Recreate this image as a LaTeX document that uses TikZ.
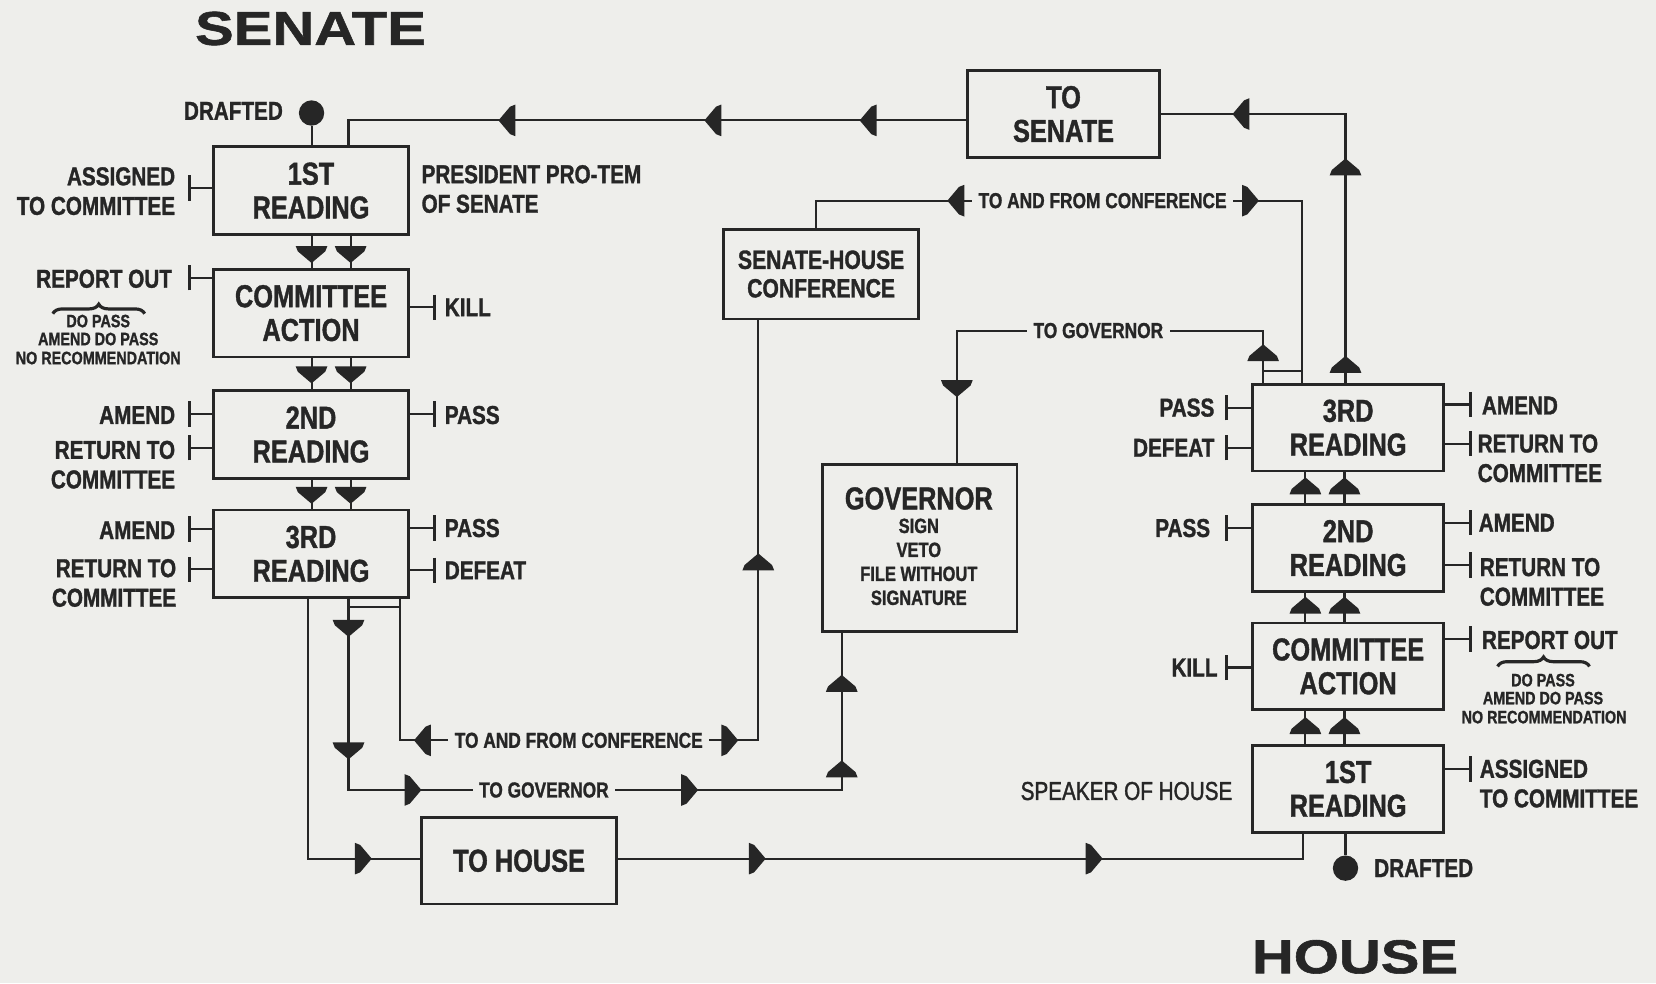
\documentclass[tikz,border=0pt]{standalone}
\usepackage{fontspec}
\setmainfont{Liberation Sans}[FakeStretch=0.8,BoldFeatures={FakeBold=1.2}]
\newfontfamily\medfont{Liberation Sans}[FakeStretch=0.8,FakeBold=1.4]
\newfontfamily\titlefont{Liberation Sans}[FakeStretch=1.22,BoldFeatures={FakeBold=1.2}]
\usetikzlibrary{arrows.meta,decorations.pathreplacing}
\definecolor{paper}{RGB}{238,238,235}
\definecolor{ink}{RGB}{38,38,38}
\begin{document}
\begin{tikzpicture}[x=1pt,y=-1pt,
  wire/.style={draw=ink,line width=2pt},
  box/.style={draw=ink,line width=2.6pt,align=center,inner sep=0pt,text=ink,
     font=\bfseries\fontsize{30}{32}\selectfont},
  sbox/.style={box,minimum width=185pt,minimum height=83pt},
  hbox/.style={box,minimum width=181pt,minimum height=82pt},
  lbl/.style={font=\bfseries\fontsize{24.5}{28}\selectfont,inner sep=0pt,text=ink},
  small/.style={font=\bfseries\fontsize{17}{18}\selectfont,inner sep=0pt,text=ink},
  wlbl/.style={font=\bfseries\fontsize{20.5}{22}\selectfont,fill=paper,inner xsep=6pt,inner ysep=3pt,text=ink},
  title/.style={font=\titlefont\bfseries\fontsize{45}{45}\selectfont,inner sep=0pt,text=ink},
  tick/.style={wire,-{Bar[width=24pt,line width=3pt]}},
  dot/.style={circle,fill=ink,inner sep=0pt,minimum size=24pt},
  brc/.style={draw=ink,line width=3pt,decorate,decoration={brace,amplitude=9pt}},
  amk/.pic={\fill[ink] (9,0) -- (-2,-13) -- (-7,-15) -- (-7,15) -- (-2,13) -- cycle;}
]
\fill[paper] (0,0) rectangle (1568,931);
\useasboundingbox (0,0) rectangle (1568,931);

% titles
\node[title] (tS) at (294,27) {SENATE};
\node[title] (tH) at (1283,906) {HOUSE};

% ---------------- SENATE ----------------
\node[sbox] (s1) at (294.5,180.5) {1ST\\READING};
\node[sbox] (sc) at (294.5,296.5) {COMMITTEE\\ACTION};
\node[sbox] (s2) at (294.5,411.5) {2ND\\READING};
\node[sbox] (s3) at (294.5,524.5) {3RD\\READING};

\node[dot] (sd) at (295,107) {};
\draw[wire] (sd) -- (sd |- s1.north);
\node[lbl,anchor=east] (sdl) at (268,105) {DRAFTED};

% between senate boxes
\foreach \a/\b/\m in {s1/sc/240, sc/s2/354, s2/s3/468}{
  \draw[wire] (\a.south -| 295,0) -- (\b.north -| 295,0);
  \draw[wire] (\a.south -| 332,0) -- (\b.north -| 332,0);
  \pic[rotate=-90] at (295,\m) {amk};
  \pic[rotate=-90] at (332,\m) {amk};
}

% senate ticks and labels
\draw[tick] (s1.west |- 0,178) -- (178,178);
\node[lbl,anchor=east,align=right] (sl1) at (166,181) {ASSIGNED\\TO COMMITTEE};
\node[lbl,anchor=west,align=left] (spt) at (399,179) {PRESIDENT PRO-TEM\\OF SENATE};

\draw[tick] (sc.west |- 0,263) -- (178,263);
\node[lbl,anchor=east] (sro) at (163,264) {REPORT OUT};
\draw[brc] (50,297) -- (137,297);
\node[small] (sdp) at (93,304) {DO PASS};
\node[small] (sadp) at (93,321) {AMEND DO PASS};
\node[small] (snr) at (93,339) {NO RECOMMENDATION};
\draw[tick] (sc.east |- 0,291) -- (413,291);
\node[lbl,anchor=west] (sk) at (421,291) {KILL};

\draw[tick] (s2.west |- 0,392) -- (178,392);
\node[lbl,anchor=east] (sa2) at (166,393) {AMEND};
\draw[tick] (s2.west |- 0,424) -- (178,424);
\node[lbl,anchor=east,align=right] (sr2) at (166,440) {RETURN TO\\COMMITTEE};
\draw[tick] (s2.east |- 0,392) -- (413,392);
\node[lbl,anchor=west] (sp2) at (421,393) {PASS};

\draw[tick] (s3.west |- 0,501) -- (178,501);
\node[lbl,anchor=east] (sa3) at (166,502) {AMEND};
\draw[tick] (s3.west |- 0,539) -- (178,539);
\node[lbl,anchor=east,align=right] (sr3) at (167,552) {RETURN TO\\COMMITTEE};
\draw[tick] (s3.east |- 0,500) -- (413,500);
\node[lbl,anchor=west] (sp3) at (421,500) {PASS};
\draw[tick] (s3.east |- 0,540) -- (413,540);
\node[lbl,anchor=west] (sdf3) at (421,540) {DEFEAT};

% ---------------- MIDDLE ----------------
\node[box,minimum width=182pt,minimum height=82pt] (tsen) at (1007,108) {TO\\SENATE};
\node[box,minimum width=185pt,minimum height=85pt,font=\bfseries\fontsize{25}{27}\selectfont] (conf) at (777.5,259.5) {SENATE-HOUSE\\CONFERENCE};
\node[box,minimum width=184pt,minimum height=158pt] (gov) at (871,519) {};
\node[inner sep=0pt,text=ink,font=\bfseries\fontsize{30}{32}\selectfont] (govt) at (870,472) {GOVERNOR};
\node[inner sep=0pt,text=ink,align=center,font=\bfseries\fontsize{19.5}{22.7}\selectfont] (govs) at (870,532) {SIGN\\VETO\\FILE WITHOUT\\SIGNATURE};
\node[box,minimum width=185pt,minimum height=82pt] (thouse) at (491.5,815) {TO HOUSE};

% ---------------- HOUSE ----------------
\node[hbox] (h3) at (1276.5,405) {3RD\\READING};
\node[hbox] (h2) at (1276.5,519) {2ND\\READING};
\node[hbox] (hc) at (1276.5,631) {COMMITTEE\\ACTION};
\node[hbox] (h1) at (1276.5,747) {1ST\\READING};

\node[dot] (hd) at (1274,822) {};
\draw[wire] (h1.south -| hd) -- (hd);
\node[lbl,anchor=west] (hdl) at (1301,822) {DRAFTED};

\foreach \a/\b/\m in {h1/hc/688, hc/h2/574, h2/h3/461}{
  \draw[wire] (\a.north -| 1236,0) -- (\b.south -| 1236,0);
  \draw[wire] (\a.north -| 1273,0) -- (\b.south -| 1273,0);
  \pic[rotate=90] at (1236,\m) {amk};
  \pic[rotate=90] at (1273,\m) {amk};
}

\draw[tick] (h3.west |- 0,386) -- (1160,386);
\node[lbl,anchor=east] (hp3) at (1150,386) {PASS};
\draw[tick] (h3.west |- 0,424) -- (1160,424);
\node[lbl,anchor=east] (hdf3) at (1150,424) {DEFEAT};
\draw[tick] (h3.east |- 0,383) -- (1394,383);
\node[lbl,anchor=west] (ha3) at (1403,384) {AMEND};
\draw[tick] (h3.east |- 0,420) -- (1394,420);
\node[lbl,anchor=west,align=left] (hr3) at (1399,434) {RETURN TO\\COMMITTEE};

\draw[tick] (h2.west |- 0,500) -- (1160,500);
\node[lbl,anchor=east] (hp2) at (1146,500) {PASS};
\draw[tick] (h2.east |- 0,495) -- (1394,495);
\node[lbl,anchor=west] (ha2) at (1400,495) {AMEND};
\draw[tick] (h2.east |- 0,535) -- (1394,535);
\node[lbl,anchor=west,align=left] (hr2) at (1401,551) {RETURN TO\\COMMITTEE};

\draw[tick] (hc.west |- 0,632) -- (1160,632);
\node[lbl,anchor=east] (hk) at (1153,632) {KILL};
\draw[tick] (hc.east |- 0,605) -- (1394,605);
\node[lbl,anchor=west] (hro) at (1403,606) {REPORT OUT};
\draw[brc] (1418,631) -- (1505,631);
\node[small] (hdp) at (1461,644) {DO PASS};
\node[small] (hadp) at (1461,661) {AMEND DO PASS};
\node[small] (hnr) at (1462,679) {NO RECOMMENDATION};

\draw[tick] (h1.east |- 0,728) -- (1394,728);
\node[lbl,anchor=west,align=left] (ha1) at (1401,742) {ASSIGNED\\TO COMMITTEE};
\node[inner sep=0pt,text=ink,anchor=east,font=\medfont\fontsize{24.5}{28}\selectfont] (spk) at (1167,749) {SPEAKER OF HOUSE};

% ---------------- CONNECTORS ----------------
% house 3rd -> to senate -> senate 1st
\draw[wire] (h3.north -| 1274,0) -- (1274,108) -- (tsen.east);
\pic[rotate=90] at (1274,346) {amk};
\pic[rotate=90] at (1274,159) {amk};
\pic[rotate=180] at (1176,108) {amk};
\draw[wire] (tsen.west |- 0,114) -- (330,114) -- (s1.north -| 330,0);
\pic[rotate=180] at (823,114) {amk};
\pic[rotate=180] at (676,114) {amk};
\pic[rotate=180] at (481,114) {amk};

% senate 3rd -> to house -> house 1st
\draw[wire] (s3.south -| 292,0) -- (292,813) -- (thouse.west |- 0,813);
\pic at (343,813) {amk};
\draw[wire] (thouse.east |- 0,813) -- (1234,813) -- (h1.south -| 1234,0);
\pic at (716,813) {amk};
\pic at (1035,813) {amk};

% senate 3rd -> governor
\draw[wire] (s3.south -| 330,0) -- (330,748) -- (797,748) -- (gov.south -| 797,0);
\node[wlbl] (sgl) at (515,748) {TO GOVERNOR};
\pic[rotate=-90] at (330,594) {amk};
\pic[rotate=-90] at (330,710) {amk};
\pic at (390,748) {amk};
\pic at (652,748) {amk};
\pic[rotate=90] at (797,729) {amk};
\pic[rotate=90] at (797,648) {amk};

% senate 3rd <-> conference
\draw[wire] (s3.south -| 379,0) -- (379,701) -- (718,701) -- (conf.south -| 718,0);
\draw[wire] (330,575) -- (379,575);
\node[wlbl] (scl) at (548,701) {TO AND FROM CONFERENCE};
\pic[rotate=180] at (401,701) {amk};
\pic at (690,701) {amk};
\pic[rotate=90] at (718,533) {amk};

% conference <-> house 3rd
\draw[wire] (conf.north -| 773,0) -- (773,190) -- (1233,190) -- (h3.north -| 1233,0);
\node[wlbl] (hcl) at (1044,190) {TO AND FROM CONFERENCE};
\pic[rotate=180] at (906,190) {amk};
\pic at (1183,190) {amk};

% house 3rd -> governor
\draw[wire] (h3.north -| 1196,0) -- (1196,313) -- (906,313) -- (gov.north -| 906,0);
\draw[wire] (1196,351) -- (1233,351);
\node[wlbl] (hgl) at (1040,313) {TO GOVERNOR};
\pic[rotate=90] at (1196,335) {amk};
\pic[rotate=-90] at (906,367) {amk};
\end{tikzpicture}
\end{document}
